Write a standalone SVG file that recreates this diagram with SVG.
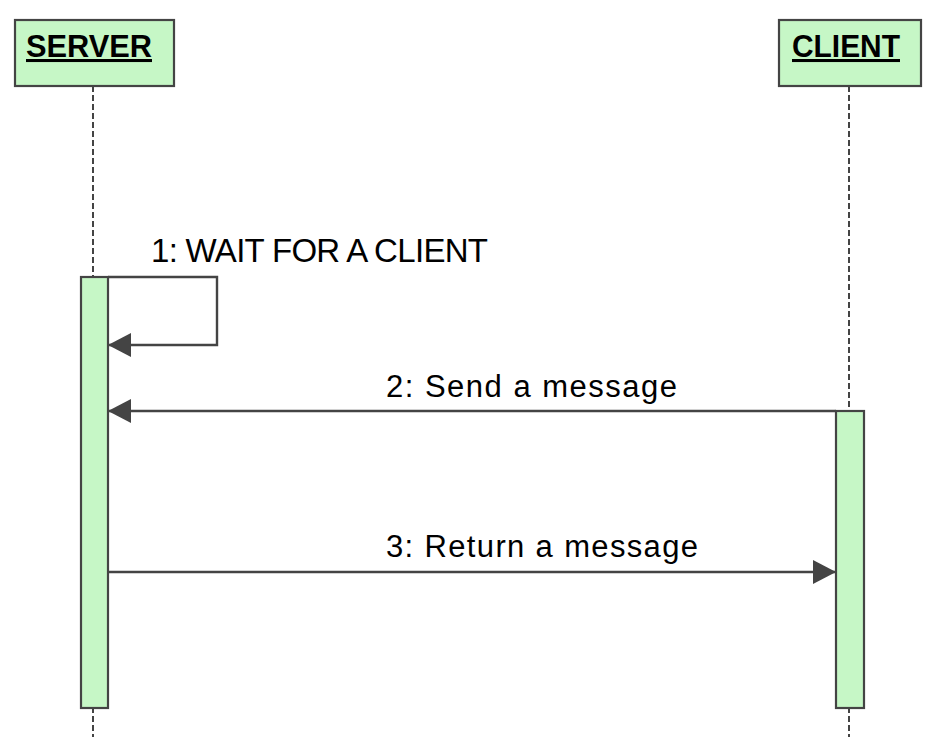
<svg xmlns="http://www.w3.org/2000/svg" width="933" height="747" viewBox="0 0 933 747">
<defs>
<style>
.box{fill:#c6f7c6;stroke:#444;stroke-width:2.2}
.bar{fill:#c6f7c6;stroke:#444;stroke-width:2.2}
.life{stroke:#444;stroke-width:2;stroke-dasharray:6 3;fill:none}
.msg{stroke:#444;stroke-width:2.4;fill:none}
.title{font-family:"Liberation Sans",Arial,sans-serif;font-weight:bold;font-size:30.5px;fill:#000;text-decoration:underline}
.lbl{font-family:"Liberation Sans",Arial,sans-serif;font-size:31px;fill:#000}
</style>
<marker id="ah" markerWidth="23" markerHeight="24" refX="23" refY="12" orient="auto" markerUnits="userSpaceOnUse">
<path d="M0,0 L23,12 L0,24 Z" fill="#444"/>
</marker>
</defs>
<rect width="933" height="747" fill="#fff"/>
<g id="lifelines">
<line class="life" x1="93" y1="86" x2="93" y2="737"/>
<line class="life" x1="849" y1="86" x2="849" y2="737"/>
</g>
<g id="server">
<rect class="box" x="15" y="20" width="159" height="66"/>
<text class="title" x="26" y="57" textLength="126" lengthAdjust="spacingAndGlyphs">SERVER</text>
</g>
<g id="client">
<rect class="box" x="779" y="20" width="142" height="66"/>
<text class="title" x="792" y="57" textLength="108" lengthAdjust="spacingAndGlyphs">CLIENT</text>
</g>
<g id="server-activation">
<rect class="bar" x="81" y="277" width="27" height="431"/>
</g>
<g id="client-activation">
<rect class="bar" x="836" y="411" width="28" height="297"/>
</g>
<g id="connectors">
<polyline class="msg" points="108,277 217,277 217,345 108,345" marker-end="url(#ah)"/>
<line class="msg" x1="836" y1="411" x2="108" y2="411" marker-end="url(#ah)"/>
<line class="msg" x1="108" y1="572" x2="836" y2="572" marker-end="url(#ah)"/>
<text class="lbl" x="151" y="262" style="font-size:33px" textLength="337" lengthAdjust="spacing">1: WAIT FOR A CLIENT</text>
<text class="lbl" x="386" y="397" textLength="291" lengthAdjust="spacing">2: Send a message</text>
<text class="lbl" x="386" y="557" textLength="312" lengthAdjust="spacing">3: Return a message</text>
</g>
</svg>
